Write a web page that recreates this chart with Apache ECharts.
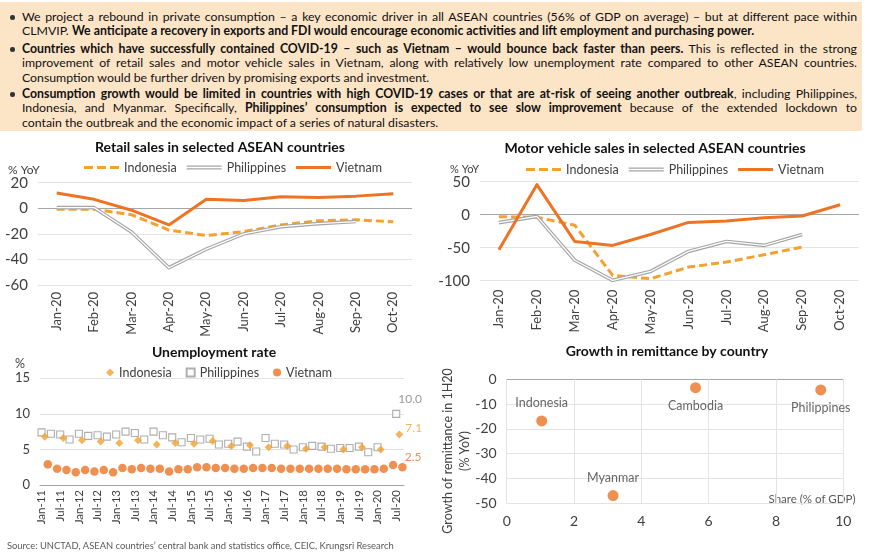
<!DOCTYPE html>
<html>
<head>
<meta charset="utf-8">
<script src="https://cdn.jsdelivr.net/npm/echarts@6/dist/echarts.min.js"></script>
<style>
html,body{margin:0;padding:0;background:#fff;}
#wrap{position:relative;width:870px;height:558px;overflow:hidden;font-family:Lato,"Noto Sans",sans-serif;}
#chart{position:absolute;left:0;top:0;width:870px;height:558px;}
#box{position:absolute;left:0;top:2px;width:862px;height:129px;background:#FCE4C7;}
.p{position:absolute;left:22px;width:835px;}
.l{line-height:14.4px;font-size:12.3px;text-align:justify;text-align-last:justify;color:#111;white-space:normal;}
.l.last{text-align-last:left;}
.dot{position:absolute;left:-12px;top:5px;width:4.5px;height:4.5px;border-radius:50%;background:#333;}
</style>
</head>
<body>
<div id="wrap">
  <div id="box">
    <div class="p" style="top:8px">
      <div class="dot"></div>
      <div class="l">We project a rebound in private consumption – a key economic driver in all ASEAN countries (56% of GDP on average) – but at different pace within</div>
      <div class="l last">CLMVIP. <b>We anticipate a recovery in exports and FDI would encourage economic activities and lift employment and purchasing power.</b></div>
    </div>
    <div class="p" style="top:40px">
      <div class="dot"></div>
      <div class="l"><b>Countries which have successfully contained COVID-19 – such as Vietnam – would bounce back faster than peers.</b> This is reflected in the  strong</div>
      <div class="l">improvement of retail sales and motor vehicle sales in Vietnam, along with relatively low unemployment rate compared to other ASEAN countries.</div>
      <div class="l last">Consumption would be further driven by promising exports and investment.</div>
    </div>
    <div class="p" style="top:85px">
      <div class="dot"></div>
      <div class="l"><b>Consumption growth would be limited in countries with high COVID-19 cases or that are at-risk of seeing another outbreak</b>, including Philippines,</div>
      <div class="l">Indonesia, and Myanmar. Specifically, <b>Philippines’ consumption is expected to see slow improvement</b> because of the extended lockdown to</div>
      <div class="l last">contain the outbreak and the economic impact of a series of natural disasters.</div>
    </div>
  </div>
  <div id="chart"></div>
</div>
<script>
// ---------- data ----------
const months2020 = ['Jan-20','Feb-20','Mar-20','Apr-20','May-20','Jun-20','Jul-20','Aug-20','Sep-20','Oct-20'];

const retailIndonesia   = [-0.8, -0.8, -5, -17, -21.3, -18.3, -13, -9.8, -9, -10.6];
const retailPhilippines = [0.5, 0.5, -18.5, -46.5, -32, -20, -14.4, -12, -10.4, null];
const retailVietnam     = [12, 7, -1.5, -13, 7, 6, 9, 8.5, 9.5, 11.3];

const motorIndonesia   = [-3, -4, -16, -92, -97, -79.4, -71.8, -60.6, -49, null];
const motorPhilippines = [-12, -2.5, -69, -99.5, -86, -55.6, -40.5, -46.5, -30, null];
const motorVietnam     = [-53, 45.5, -40.5, -46.5, -30, -11.7, -9.6, -4.5, -2, 15];

const monthNames = ['Jan','Feb','Mar','Apr','May','Jun','Jul','Aug','Sep','Oct','Nov','Dec'];
const unempYears = ['11','12','13','14','15','16','17','18','19','20'];
const unempMonthCount = 117; // Jan-11 .. Sep-20

// Philippines: quarterly from Jan-11 (Jan, Apr, Jul, Oct), Apr-20 not shown
const unempPhilippines = [7.4,7.2,7.1,6.4, 7.2,6.9,7.0,6.8, 7.1,7.5,7.3,6.4, 7.5,7.0,6.7,6.0,
  6.6,6.4,6.5,5.7, 5.8,6.1,5.4,4.7, 6.6,5.8,5.7,5.0, 5.3,5.5,5.4,5.1, 5.2,5.2,5.4,4.6, 5.3,null,10.0];
// Indonesia: semi-annual from Feb-11 (Feb, Aug)
const unempIndonesia = [6.8,6.6,6.3,6.1,5.9,6.3,5.7,5.9,5.8,6.2,5.5,5.6,5.3,5.5,5.1,5.3,5.0,5.3,5.0,7.1];
// Vietnam: quarterly from Mar-11 (Mar, Jun, Sep, Dec)
const unempVietnam = [2.9,2.3,2.1,1.8, 2.1,1.9,2.1,1.8, 2.4,2.2,2.4,2.3, 2.3,1.9,2.2,2.2,
  2.5,2.5,2.4,2.4, 2.3,2.3,2.4,2.4, 2.4,2.3,2.3,2.3, 2.3,2.3,2.3,2.3, 2.2,2.2,2.2,2.2, 2.3,2.8,2.5];

const remitCountries = ['Indonesia','Myanmar','Cambodia','Philippines'];
const remitShare     = [1.04, 3.16, 5.61, 9.33];
const remitGrowth    = [-16.8, -46.9, -3.4, -4.3];

// ---------- build ----------
const unempMonths = [];
unempYears.forEach(y => monthNames.forEach(m => unempMonths.push(m + '-' + y)));
unempMonths.length = unempMonthCount;

const C_VN = '#EC7424', C_ID = '#F4A131', C_PH = '#A5A5A5';
const FONT = 'Lato, "Noto Sans", sans-serif';

function points(vals, start, step, lastLabel) {
  const out = [];
  vals.forEach((v, i) => {
    if (v == null) return;
    const item = { value: [start + i * step, v] };
    if (i === vals.length - 1 && lastLabel) item.label = lastLabel;
    out.push(item);
  });
  return out;
}

const light = '#E3E3E3', dark = '#A6A6A6';
function yAx(grid, min, max, interval, zeroIdx, size) {
  const n = Math.round((max - min) / interval) + 1;
  const colors = [];
  for (let i = 0; i < n; i++) colors.push(i === zeroIdx ? dark : light);
  return {
    type: 'value', gridIndex: grid, min, max, interval,
    axisLine: { show: false }, axisTick: { show: false },
    axisLabel: { fontSize: size, color: '#404040', margin: 10, fontFamily: FONT },
    splitLine: { show: true, lineStyle: { color: colors, width: 1 } }
  };
}
function catX(grid, data, opts) {
  return Object.assign({
    type: 'category', gridIndex: grid, data, boundaryGap: true,
    axisLine: { show: false }, axisTick: { show: false },
    axisLabel: { rotate: 90, fontSize: 13, color: '#404040', margin: 7, interval: 0, fontFamily: FONT },
    splitLine: { show: false }
  }, opts || {});
}
function lineSeries(name, xi, data, color, width, type, z) {
  return {
    name, type: 'line', xAxisIndex: xi, yAxisIndex: xi, data,
    symbol: 'none', showSymbol: false, connectNulls: false, z: z || 2,
    lineStyle: { color, width, type: type || 'solid', cap: 'butt', join: 'round' },
    itemStyle: { color, borderWidth: 0 }, emphasis: { disabled: true }, silent: true
  };
}
// legend icons (line samples)
const icoDash = 'path://M0,0H9V3H0Z M13,0H22V3H13Z M26,0H35V3H26Z';
const icoDouble = 'path://M0,0H35V4H0Z M0,1.2V2.8H35V1.2Z';
const icoSolid = 'path://M0,0H35V3H0Z';
const legendText = { fontSize: 12.5, color: '#404040', fontFamily: FONT };
const fmt = n => n.split('#')[0];
function lineLegend(suffix, left, top) {
  return { left, top, padding: 0, itemWidth: 35, itemHeight: 5, itemGap: 10, selectedMode: false,
    textStyle: legendText, formatter: fmt,
    data: [ { name: 'Indonesia' + suffix, icon: icoDash },
            { name: 'Philippines' + suffix, icon: icoDouble },
            { name: 'Vietnam' + suffix, icon: icoSolid } ] };
}

const option = {
  animation: false,
  textStyle: { fontFamily: FONT },
  grid: [
    { left: 38, top: 182.7, width: 374, height: 102.3, containLabel: false, outerBoundsMode: 'none' },
    { left: 480, top: 181.7, width: 379, height: 99, containLabel: false, outerBoundsMode: 'none' },
    { left: 40, top: 378.3, width: 364, height: 106.7, containLabel: false, outerBoundsMode: 'none' },
    { left: 506.7, top: 379.3, width: 336.6, height: 124, containLabel: false, outerBoundsMode: 'none' }
  ],
  xAxis: [
    catX(0, months2020),
    catX(1, months2020, { axisLabel: { rotate: 90, fontSize: 13, color: '#404040', margin: 9, interval: 0, fontFamily: FONT } }),
    catX(2, unempMonths, {
      axisLine: { show: true, lineStyle: { color: dark, width: 1 } },
      axisLabel: { rotate: 90, fontSize: 11.5, color: '#404040', margin: 5, fontFamily: FONT,
        interval: (i) => i % 6 === 0 }
    }),
    { type: 'value', gridIndex: 3, min: 0, max: 10, interval: 2,
      axisLine: { show: false }, axisTick: { show: false },
      axisLabel: { fontSize: 14, color: '#404040', margin: 11, fontFamily: FONT },
      splitLine: { show: true, lineStyle: { color: light } } }
  ],
  yAxis: [
    yAx(0, -60, 20, 20, 3, 15),
    yAx(1, -100, 50, 50, 2, 15),
    yAx(2, 0, 15, 5, 0, 13),
    yAx(3, -50, 0, 10, 5, 14)
  ],
  legend: [
    lineLegend('#r', 84, 161),
    lineLegend('#m', 526, 163),
    { left: 106, top: 366, padding: 0, itemWidth: 8, itemHeight: 8, itemGap: 14, selectedMode: false,
      textStyle: legendText, formatter: fmt,
      data: ['Indonesia#u', 'Philippines#u', 'Vietnam#u'] }
  ],
  series: [
    lineSeries('Indonesia#r', 0, retailIndonesia, C_ID, 3, [8, 4]),
    lineSeries('Philippines#r', 0, retailPhilippines, C_PH, 3.6),
    lineSeries('PhInner#r', 0, retailPhilippines, '#ffffff', 1.3, 'solid', 3),
    lineSeries('Vietnam#r', 0, retailVietnam, C_VN, 3, 'solid', 4),

    lineSeries('Indonesia#m', 1, motorIndonesia, C_ID, 3, [8, 4]),
    lineSeries('Philippines#m', 1, motorPhilippines, C_PH, 3.6),
    lineSeries('PhInner#m', 1, motorPhilippines, '#ffffff', 1.3, 'solid', 3),
    lineSeries('Vietnam#m', 1, motorVietnam, C_VN, 3, 'solid', 4),

    { name: 'Indonesia#u', type: 'scatter', xAxisIndex: 2, yAxisIndex: 2, symbol: 'diamond', symbolSize: 8,
      itemStyle: { color: C_ID }, silent: true, z: 3,
      data: points(unempIndonesia, 1, 6, { show: true, position: 'right', offset: [-3, -6], fontSize: 12, color: C_ID,
        formatter: p => p.value[1].toFixed(1) }) },
    { name: 'Philippines#u', type: 'scatter', xAxisIndex: 2, yAxisIndex: 2, symbol: 'rect', symbolSize: 7,
      itemStyle: { color: '#ffffff', borderColor: '#9a9a9a', borderWidth: 1.1 }, silent: true, z: 2,
      data: points(unempPhilippines, 0, 3, { show: true, position: 'top', offset: [14, 0], fontSize: 12, color: '#7f7f7f',
        formatter: p => p.value[1].toFixed(1) }) },
    { name: 'Vietnam#u', type: 'scatter', xAxisIndex: 2, yAxisIndex: 2, symbol: 'circle', symbolSize: 8.5,
      itemStyle: { color: C_VN }, silent: true, z: 4,
      data: points(unempVietnam, 2, 3, { show: true, position: 'right', offset: [-7, -10], fontSize: 12, color: C_VN,
        formatter: p => p.value[1].toFixed(1) }) },

    { name: 'Remittance', type: 'scatter', xAxisIndex: 3, yAxisIndex: 3, symbolSize: 11, silent: true,
      itemStyle: { color: C_VN },
      label: { show: true, formatter: '{b}', fontSize: 12.5, color: '#404040', distance: 6, fontFamily: FONT },
      data: remitCountries.map((n, i) => ({
        name: n, value: [remitShare[i], remitGrowth[i]],
        label: { position: (n === 'Cambodia' || n === 'Philippines') ? 'bottom' : 'top' }
      })) }
  ],
  graphic: [
    { type: 'text', x: 220, y: 147, style: { text: 'Retail sales in selected ASEAN countries', font: 'bold 14px ' + FONT, fill: '#111', align: 'center', verticalAlign: 'middle' } },
    { type: 'text', x: 655, y: 148.5, style: { text: 'Motor vehicle sales in selected ASEAN countries', font: 'bold 14px ' + FONT, fill: '#111', align: 'center', verticalAlign: 'middle' } },
    { type: 'text', x: 214, y: 352.5, style: { text: 'Unemployment rate', font: 'bold 14px ' + FONT, fill: '#111', align: 'center', verticalAlign: 'middle' } },
    { type: 'text', x: 667, y: 351, style: { text: 'Growth in remittance by country', font: 'bold 14px ' + FONT, fill: '#111', align: 'center', verticalAlign: 'middle' } },
    { type: 'text', x: 8, y: 170.5, style: { text: '% YoY', font: '12px ' + FONT, fill: '#404040', align: 'left', verticalAlign: 'middle' } },
    { type: 'text', x: 450, y: 169.5, style: { text: '% YoY', font: '11px ' + FONT, fill: '#404040', align: 'left', verticalAlign: 'middle' } },
    { type: 'text', x: 15, y: 363.5, style: { text: '%', font: '12.5px ' + FONT, fill: '#404040', align: 'left', verticalAlign: 'middle' } },
    { type: 'text', x: 456, y: 451, rotation: Math.PI / 2, style: { text: 'Growth of remittance in 1H20\n(% YoY)', font: '12.5px ' + FONT, lineHeight: 17, fill: '#404040', align: 'center', verticalAlign: 'middle' } },
    { type: 'text', x: 812, y: 499, style: { text: 'Share (% of GDP)', font: '11.5px ' + FONT, fill: '#595959', align: 'center', verticalAlign: 'middle' } },
    { type: 'text', x: 7, y: 546, style: { text: 'Source: UNCTAD, ASEAN countries’ central bank and statistics office, CEIC, Krungsri Research', font: '9.4px ' + FONT, fill: '#595959', align: 'left', verticalAlign: 'middle' } }
  ]
};

const chart = echarts.init(document.getElementById('chart'), null, { renderer: 'canvas' });
chart.setOption(option);

// shrink any text-box line that would wrap
document.querySelectorAll('.l').forEach(el => {
  let s = 12.3;
  while (el.offsetHeight > 16 && s > 9) { s -= 0.1; el.style.fontSize = s + 'px'; }
});
</script>
</body>
</html>
